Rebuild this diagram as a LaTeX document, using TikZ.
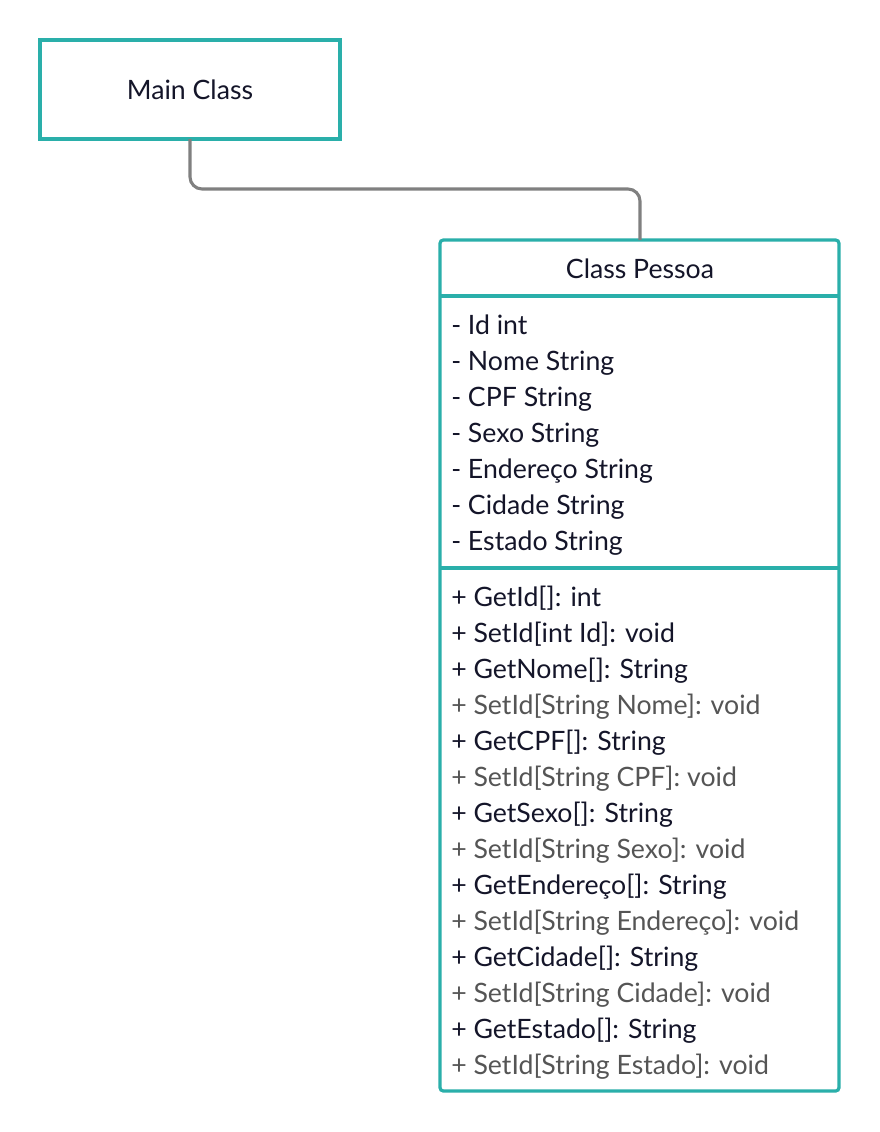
\documentclass[tikz,border=0pt]{standalone}
\usepackage{fontspec}
\setmainfont{Lato}
\begin{document}
\begin{tikzpicture}[x=0.75pt,y=-0.75pt,
  teal/.style={draw=tealc,line width=2.4pt,outer sep=0pt},
  txt/.style={anchor=base west,inner sep=0pt,font=\fontsize{20}{20}\selectfont,text=textc},
  gtxt/.style={txt,text=grayc},
  conn/.style={draw=linec,line width=2.3pt,rounded corners=9pt}]
\definecolor{tealc}{HTML}{2AAFAA}
\definecolor{textc}{HTML}{141529}
\definecolor{grayc}{HTML}{555555}
\definecolor{linec}{HTML}{808080}
\useasboundingbox[fill=white] (0,0) rectangle (880,1132);
% Main class
\node[teal,minimum width=300*0.75pt,minimum height=99*0.75pt,inner sep=0pt,anchor=north west,
  font=\fontsize{20}{20}\selectfont,text=textc] (main) at (40,40) {Main Class};
% Pessoa box
\node[teal,rounded corners=2.5pt,minimum width=399*0.75pt,minimum height=851*0.75pt,inner sep=0pt,anchor=north west] (pessoa) at (440,240) {};
\draw[draw=tealc,line width=2.4pt] (pessoa.west |- 0,296) -- (pessoa.east |- 0,296);
\draw[draw=tealc,line width=2.4pt] (pessoa.west |- 0,568) -- (pessoa.east |- 0,568);
\node[anchor=base,inner sep=0pt,font=\fontsize{20}{20}\selectfont,text=textc] (title) at (640,278) {Class Pessoa};
% connector
\coordinate (cstart) at (main.south);
\coordinate (cend) at (640,240);
\draw[conn] (cstart) -- (190,189) -- (640,189) -- (cend);
% attributes
\foreach \t [count=\i from 0] in {- Id int,- Nome String,- CPF String,- Sexo String,- Endereço String,- Cidade String,- Estado String}
  \node[txt] (a\i) at (451,334+36*\i) {\t};
% methods
\node[txt]  (m0)  at (451,606)  {+ GetId[]: int};
\node[txt]  (m1)  at (451,642)  {+ SetId[int Id]: void};
\node[txt]  (m2)  at (451,678)  {+ GetNome[]: String};
\node[gtxt] (m3)  at (451,714)  {+ SetId[String Nome]: void};
\node[txt]  (m4)  at (451,750)  {+ GetCPF[]: String};
\node[gtxt] (m5)  at (451,786)  {+ SetId[String CPF]: void};
\node[txt]  (m6)  at (451,822)  {+ GetSexo[]: String};
\node[gtxt] (m7)  at (451,858)  {+ SetId[String Sexo]: void};
\node[txt]  (m8)  at (451,894)  {+ GetEndereço[]: String};
\node[gtxt] (m9)  at (451,930)  {+ SetId[String Endereço]: void};
\node[txt]  (m10) at (451,966)  {+ GetCidade[]: String};
\node[gtxt] (m11) at (451,1002) {+ SetId[String Cidade]: void};
\node[txt]  (m12) at (451,1038) {+ GetEstado[]: String};
\node[gtxt] (m13) at (451,1074) {+ SetId[String Estado]: void};
\end{tikzpicture}
\end{document}
